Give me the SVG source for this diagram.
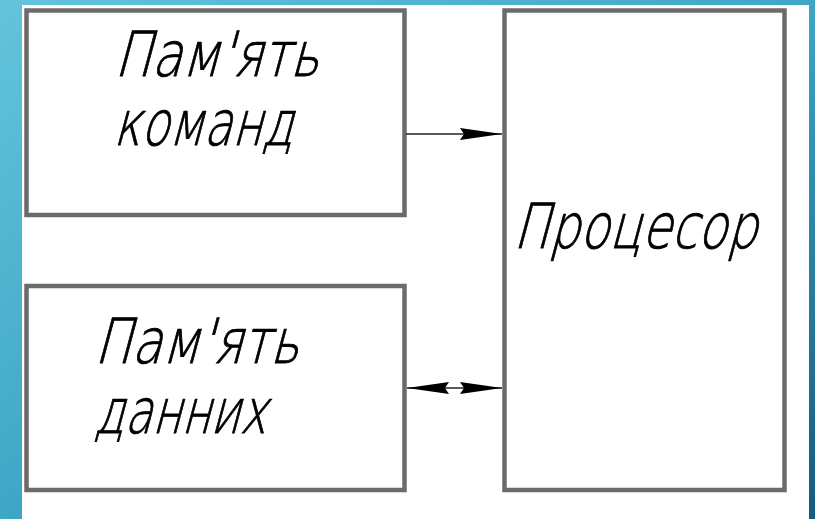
<svg xmlns="http://www.w3.org/2000/svg" width="815" height="519" viewBox="0 0 815 519">
<style>
.box{fill:#fff;stroke:#6b6b6b;stroke-width:4.5}
.lbl{font-family:"DejaVu Sans","Liberation Sans",sans-serif;font-weight:200;font-size:62px;fill:#000;stroke:#000;stroke-width:0.9}
.con{stroke:#222;stroke-width:1.6;fill:none}
</style>
<defs>
<linearGradient id="bg" x1="0" y1="0" x2="1" y2="1">
<stop offset="0" stop-color="#63c4db"/>
<stop offset="0.5" stop-color="#3fa6c6"/>
<stop offset="1" stop-color="#155a82"/>
</linearGradient>
<marker id="head" viewBox="0 0 42 13" refX="42" refY="6.5" markerWidth="42" markerHeight="13" markerUnits="userSpaceOnUse" orient="auto-start-reverse">
<path d="M0,0.5 L42,6.5 L0,12.5 L4,6.5 Z" fill="#000"/>
</marker>
</defs>
<rect x="0" y="0" width="815" height="519" fill="url(#bg)"/>
<rect x="22" y="5" width="787" height="514" fill="#fff"/>
<g id="mem-cmd">
<rect class="box" x="26.5" y="10.5" width="378" height="204.5"/>
<g transform="translate(114,76) skewX(-15) scale(0.8,1)"><text class="lbl" x="0" y="0" textLength="256" lengthAdjust="spacingAndGlyphs">Пам'ять</text></g>
<g transform="translate(113,145) skewX(-15) scale(0.8,1)"><text class="lbl" x="0" y="0" textLength="225" lengthAdjust="spacingAndGlyphs">команд</text></g>
</g>
<g id="mem-data">
<rect class="box" x="26.5" y="286" width="378" height="204"/>
<g transform="translate(94,363) skewX(-15) scale(0.8,1)"><text class="lbl" x="0" y="0" textLength="256" lengthAdjust="spacingAndGlyphs">Пам'ять</text></g>
<g transform="translate(94,433) skewX(-15) scale(0.8,1)"><text class="lbl" x="0" y="0" textLength="215" lengthAdjust="spacingAndGlyphs">данних</text></g>
</g>
<g id="cpu">
<rect class="box" x="504.5" y="10.5" width="280" height="479.5"/>
<g transform="translate(513,248) skewX(-15) scale(0.8,1)"><text class="lbl" x="0" y="0" textLength="305" lengthAdjust="spacingAndGlyphs">Процесор</text></g>
</g>
<g id="connectors">
<line class="con" x1="406" y1="134" x2="502" y2="134" marker-end="url(#head)"/>
<line class="con" x1="407" y1="388" x2="502" y2="388" marker-start="url(#head)" marker-end="url(#head)"/>
</g>
</svg>
